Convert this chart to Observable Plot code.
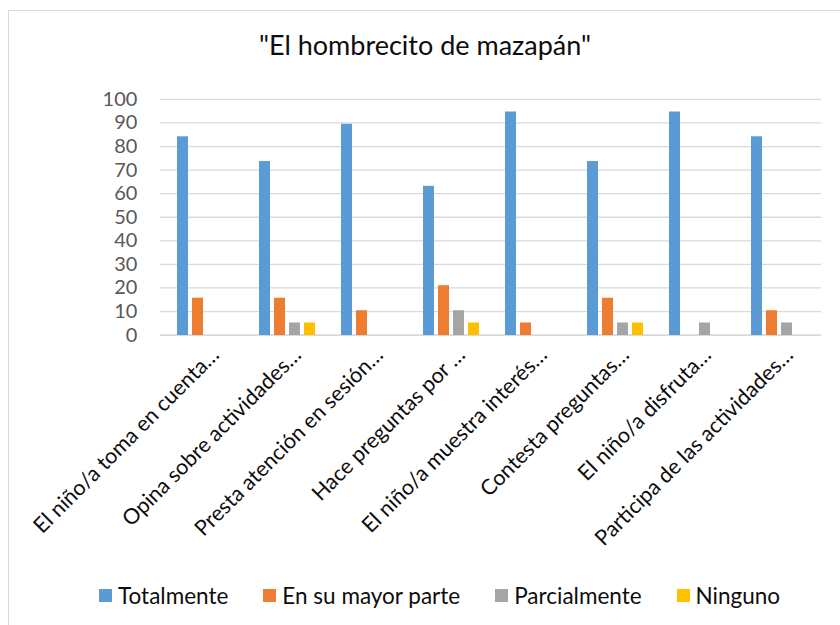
<!DOCTYPE html>
<html>
<head>
<meta charset="utf-8">
<script src="https://cdn.jsdelivr.net/npm/d3@7"></script>
<script src="https://cdn.jsdelivr.net/npm/@observablehq/plot@0.6"></script>
<style>
  html, body { margin: 0; padding: 0; background: #fff; }
  #wrap { position: relative; width: 840px; height: 625px; overflow: hidden; font-family: Lato, "Open Sans", sans-serif; }
  #border { position: absolute; left: 8px; top: 10px; width: 850px; height: 640px; border: 1px solid #d9d9d9; box-sizing: border-box; }
  #title { position: absolute; left: 0; width: 850px; top: 28px; text-align: center; font-size: 27px; line-height: 34px; color: #0d0d0d; }
  .layer { position: absolute; left: 0; top: 0; }
  #legend { position: absolute; left: 99px; top: 582px; display: flex; align-items: center; font-size: 22.5px; color: #0d0d0d; }
  .item { display: flex; align-items: center; margin-right: 35px; }
  .sw { width: 13px; height: 13px; margin-right: 6px; }
</style>
</head>
<body>
<div id="wrap">
  <div id="border"></div>
  <div id="title"></div>
  <div id="grid" class="layer"></div>
  <div id="bars" class="layer"></div>
  <div id="legend"></div>
</div>
<script>
const title = '"El hombrecito de mazapán"';
const categories = [
  "El niño/a toma en cuenta…",
  "Opina sobre actividades…",
  "Presta atención en sesión…",
  "Hace preguntas por …",
  "El niño/a muestra interés…",
  "Contesta preguntas…",
  "El niño/a disfruta…",
  "Participa de las actividades…"
];
const seriesNames = ["Totalmente", "En su mayor parte", "Parcialmente", "Ninguno"];
const seriesColors = ["#5B9BD5", "#ED7D31", "#A5A5A5", "#FFC000"];
const totalmente   = [84.2, 73.7, 89.5, 63.2, 94.7, 73.7, 94.7, 84.2];
const mayorParte   = [15.8, 15.8, 10.5, 21.1, 5.3, 15.8, 0, 10.5];
const parcialmente = [0, 5.3, 0, 10.5, 0, 5.3, 5.3, 5.3];
const ninguno      = [0, 5.3, 0, 5.3, 0, 5.3, 0, 0];
const yTicks = [0, 10, 20, 30, 40, 50, 60, 70, 80, 90, 100];

const seriesValues = [totalmente, mayorParte, parcialmente, ninguno];
const data = [];
categories.forEach((c, i) => {
  seriesNames.forEach((s, j) => {
    data.push({cat: c, series: s, value: seriesValues[j][i]});
  });
});

document.getElementById("title").textContent = title;

const W = 840, H = 575, ML = 161, MR = 17, MT = 99, MB = H - 335;
const font = "Lato, 'Open Sans', sans-serif";

const grid = Plot.plot({
  width: W, height: H,
  marginLeft: ML, marginRight: MR, marginTop: MT, marginBottom: MB,
  style: {background: "transparent", fontFamily: font},
  y: {domain: [0, 100], axis: null},
  marks: [
    Plot.ruleY(yTicks.filter(d => d > 0), {stroke: "#d9d9d9", strokeWidth: 1.3}),
    Plot.ruleY([0], {stroke: "#d9d9d9", strokeWidth: 1.6}),
    Plot.axisY(yTicks, {tickSize: 0, tickPadding: 23, fontSize: 20, color: "#595959", label: null})
  ]
});
grid.style.marginLeft = "-1px";
document.getElementById("grid").appendChild(grid);

const bars = Plot.plot({
  width: W, height: H,
  marginLeft: ML, marginRight: MR, marginTop: MT, marginBottom: MB,
  style: {background: "transparent", fontFamily: font},
  fx: {domain: categories, paddingInner: 0.246, paddingOuter: 0.123, label: null},
  x: {domain: seriesNames, paddingInner: 0.25, paddingOuter: 0.125, axis: null},
  y: {domain: [0, 100], axis: null},
  color: {domain: seriesNames, range: seriesColors},
  marks: [
    Plot.barY(data, {fx: "cat", x: "series", y: "value", fill: "series"}),
    Plot.axisFx({anchor: "bottom", tickRotate: -45, tickSize: 0, tickPadding: 16, dx: 10, fontSize: 21.5, color: "#0d0d0d", label: null})
  ]
});
document.getElementById("bars").appendChild(bars);

const legend = document.getElementById("legend");
seriesNames.forEach((s, i) => {
  const it = document.createElement("div");
  it.className = "item";
  const sw = document.createElement("div");
  sw.className = "sw";
  sw.style.background = seriesColors[i];
  const tx = document.createElement("span");
  tx.textContent = s;
  it.appendChild(sw); it.appendChild(tx);
  legend.appendChild(it);
});
</script>
</body>
</html>
